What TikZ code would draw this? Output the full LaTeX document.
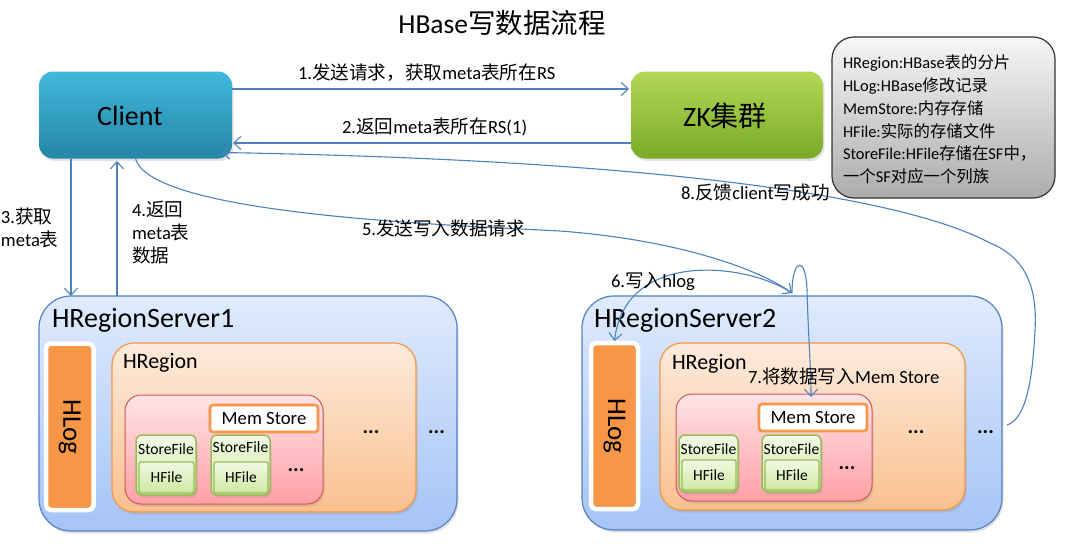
\documentclass[tikz,border=0pt]{standalone}
\usepackage{fontspec}
\setmainfont{Carlito}
\newfontfamily\cjkf{Noto Sans CJK SC}
\newfontfamily\latf{Carlito}
\XeTeXinterchartokenstate=1
\newXeTeXintercharclass\CJKcls
\newcount\cjkc
\cjkc="4E00
\loop
  \XeTeXcharclass\cjkc=\CJKcls
  \ifnum\cjkc<"9FFF \advance\cjkc by 1
\repeat
\XeTeXcharclass"FF0C=\CJKcls
\XeTeXinterchartoks 0 \CJKcls = {\cjkf}
\XeTeXinterchartoks 4095 \CJKcls = {\cjkf}
\XeTeXinterchartoks \CJKcls 0 = {\latf}
\usetikzlibrary{arrows.meta,shadows}
\definecolor{lb}{RGB}{79,129,189}
\definecolor{clt}{RGB}{64,184,220}
\definecolor{clb}{RGB}{38,134,166}
\definecolor{zkt}{RGB}{178,216,86}
\definecolor{zkb}{RGB}{122,170,40}
\definecolor{lgt}{RGB}{246,246,246}
\definecolor{lgb}{RGB}{172,172,172}
\definecolor{rst}{RGB}{224,235,253}
\definecolor{rsb}{RGB}{164,196,246}
\definecolor{rsd}{RGB}{84,130,196}
\definecolor{hrt}{RGB}{253,235,220}
\definecolor{hrb}{RGB}{250,192,143}
\definecolor{hrd}{RGB}{247,150,70}
\definecolor{pkt}{RGB}{255,228,230}
\definecolor{pkb}{RGB}{255,160,166}
\definecolor{pkd}{RGB}{200,90,90}
\definecolor{sft}{RGB}{242,249,228}
\definecolor{sfb}{RGB}{205,232,160}
\definecolor{sfd}{RGB}{155,187,89}
\definecolor{hlo}{RGB}{247,150,70}
\tikzset{
  sh/.style={drop shadow={opacity=0.22,shadow xshift=1.5pt,shadow yshift=-2.5pt}},
  bx/.style={inner sep=0pt, outer sep=0pt},
  clientbox/.style={bx, rounded corners=14pt, sh, top color=clt, bottom color=clb},
  zkbox/.style={bx, rounded corners=14pt, sh, top color=zkt, bottom color=zkb},
  bigtxt/.style={bx, font=\fontsize{28}{30}\selectfont},
  legbox/.style={bx, rounded corners=22pt, draw=black!80, line width=1.2pt, top color=lgt, bottom color=lgb},
  rsbox/.style={bx, rounded corners=32pt, sh, draw=rsd, line width=1.2pt, top color=rst, bottom color=rsb},
  hrbox/.style={bx, rounded corners=22pt, sh, draw=hrd, line width=1.2pt, top color=hrt, bottom color=hrb},
  pkbox/.style={bx, rounded corners=16pt, sh, draw=pkd, line width=1pt, top color=pkt, bottom color=pkb},
  membox/.style={bx, rounded corners=3pt, draw=hrd, line width=2.6pt, fill=white, font=\fontsize{18.7}{20}\selectfont},
  sfbox/.style={bx, rounded corners=6pt, sh, draw=sfd, line width=1.5pt, top color=sft, bottom color=sfb},
  hfbox/.style={bx, rounded corners=2pt, draw=sfd, line width=1.3pt, top color=sft, bottom color=sfb, font=\fontsize{15.5}{17}\selectfont},
  hlogbox/.style={bx, rounded corners=5pt, draw=white, line width=4.5pt, fill=hlo, drop shadow={opacity=0.18,shadow xshift=1pt,shadow yshift=-1.5pt}},
  hlogtxt/.style={bx, rotate=-90, font=\fontsize{27}{29}\selectfont},
  sftxt/.style={bx, font=\fontsize{15.6}{17}\selectfont},
  rstxt/.style={bx, anchor=west, font=\fontsize{28}{30}\selectfont},
  hrtxt/.style={bx, anchor=west, font=\fontsize{22}{24}\selectfont},
  dots/.style={bx, font=\fontsize{21}{22}\selectfont\bfseries},
  lbl/.style={bx, anchor=west, align=left, font=\fontsize{18.6}{23}\selectfont},
  legtxt/.style={bx, anchor=west, align=left, font=\fontsize{16.4}{22.7}\selectfont},
  conn/.style={draw=lb, line width=1.1pt, -{Straight Barb[length=7pt,width=13pt,line width=1.1pt]}}
}
\begin{document}
\begin{tikzpicture}[x=1pt,y=-1pt]
\useasboundingbox[fill=white] (0,0) rectangle (1086,549);

% title
\node[bx, font=\fontsize{27.5}{29}\selectfont] (title) at (502,23) {HBase写数据流程};

% top boxes
\node[clientbox, minimum width=193pt, minimum height=87pt] (client) at (135.5,115) {};
\node[bigtxt] (clientt) at (130,116) {Client};
\node[zkbox, minimum width=192pt, minimum height=87pt] (zk) at (727,115) {};
\node[bigtxt] (zkt) at (725,116) {ZK集群};
\node[legbox, minimum width=223pt, minimum height=161pt] (leg) at (943.5,117.5) {};
\node[legtxt] (legt) at (843,119.5) {HRegion:HBase表的分片\\HLog:HBase修改记录\\MemStore:内存存储\\HFile:实际的存储文件\\StoreFile:HFile存储在SF中，\\一个SF对应一个列族};

% ---------- HRegionServer1 ----------
\node[rsbox, minimum width=418pt, minimum height=235pt] (rs1) at (248,413.5) {};
\node[rstxt] (rs1t) at (52,320) {HRegionServer1};
\node[hlogbox, minimum width=47.5pt, minimum height=166.5pt] (hlog1) at (69.75,426.75) {};
\node[hlogtxt] (hlog1t) at (hlog1) {HLog};
\node[hrbox, minimum width=304pt, minimum height=169pt] (hr1) at (264,427.5) {};
\node[hrtxt] (hr1t) at (123,363) {HRegion};
\node[pkbox, minimum width=198pt, minimum height=109pt] (pk1) at (224,449.5) {};
\node[membox, minimum width=108pt, minimum height=27pt] (mem1) at (264,418.5) {Mem Store};
\node[sfbox, minimum width=60pt, minimum height=60pt] (sf1a) at (166,465) {};
\node[sftxt] (sf1at) at (166,449) {StoreFile};
\node[hfbox, minimum width=55pt, minimum height=31pt] (hf1a) at (166.5,477.5) {HFile};
\node[sfbox, minimum width=59pt, minimum height=60pt] (sf1b) at (240.5,465) {};
\node[sftxt] (sf1bt) at (240.5,447) {StoreFile};
\node[hfbox, minimum width=54pt, minimum height=31pt] (hf1b) at (241,477.5) {HFile};
\node[dots] (d1a) at (296,470) {...};
\node[dots] (d1b) at (371,432) {...};
\node[dots] (d1c) at (436.5,432) {...};

% ---------- HRegionServer2 ----------
\node[rsbox, minimum width=420pt, minimum height=234pt] (rs2) at (792,413) {};
\node[rstxt] (rs2t) at (594,320) {HRegionServer2};
\node[hlogbox, minimum width=47pt, minimum height=166pt] (hlog2) at (614.5,426) {};
\node[hlogtxt] (hlog2t) at (hlog2) {HLog};
\node[hrbox, minimum width=305pt, minimum height=167pt] (hr2) at (812.5,426.5) {};
\node[hrtxt] (hr2t) at (672,364) {HRegion};
\node[pkbox, minimum width=196pt, minimum height=107pt] (pk2) at (774,447.5) {};
\node[membox, minimum width=108pt, minimum height=27pt] (mem2) at (813,417.5) {Mem Store};
\node[sfbox, minimum width=59pt, minimum height=57pt] (sf2a) at (708.5,463.5) {};
\node[sftxt] (sf2at) at (708.5,449) {StoreFile};
\node[hfbox, minimum width=54pt, minimum height=30pt] (hf2a) at (709,475) {HFile};
\node[sfbox, minimum width=59pt, minimum height=57pt] (sf2b) at (791.5,463.5) {};
\node[sftxt] (sf2bt) at (791.5,449) {StoreFile};
\node[hfbox, minimum width=54pt, minimum height=30pt] (hf2b) at (792,475) {HFile};
\node[dots] (d2a) at (847,468) {...};
\node[dots] (d2b) at (916,432) {...};
\node[dots] (d2c) at (985.5,432) {...};

% ---------- connectors ----------
\draw[conn, shorten >=2pt] ([yshift=26pt]client.east) -- ([yshift=26pt]zk.west);
\draw[conn, shorten >=1pt] ([yshift=-28pt]zk.west) -- ([yshift=-28pt]client.east);
\draw[conn] (71,0 |- client.south) -- (71,0 |- rs1.north);
\draw[conn, shorten >=2.5pt] (117,0 |- rs1.north) -- (117,0 |- client.south);
\draw[conn] (client.south) .. controls (150,215) and (450,225) .. (560,231)
  .. controls (680,240) and (760,270) .. ([yshift=3pt]rs2.north);
\draw[conn] ([yshift=3pt]rs2.north) .. controls (745,262) and (625,250) .. ([yshift=2pt]hlog2.north);
\draw[conn] ([yshift=3pt]rs2.north) .. controls (792,258) and (806,255) .. (807,290)
  .. controls (808,330) and (811,370) .. ([shift={(-2pt,7pt)}]mem2.north);
\draw[conn] ([shift={(5pt,-12pt)}]rs2.east) .. controls (1022,420) and (1032,395) .. (1035,330)
  .. controls (1038,280) and (1020,255) .. (990,243)
  .. controls (900,195) and (650,160) .. ([shift={(-10pt,6pt)}]client.south east);

% ---------- labels ----------
\node[lbl] (l1) at (298,73) {1.发送请求，获取meta表所在RS};
\node[lbl] (l2) at (342,127) {2.返回meta表所在RS(1)};
\node[lbl] (l3) at (1,228) {3.获取\\meta表};
\node[lbl] (l4) at (132,233) {4.返回\\meta表\\数据};
\node[lbl] (l5) at (362,228) {5.发送写入数据请求};
\node[lbl] (l6) at (611,281) {6.写入hlog};
\node[lbl] (l7) at (748,376) {7.将数据写入Mem Store};
\node[lbl] (l8) at (681,193) {8.反馈client写成功};
\end{tikzpicture}
\end{document}
